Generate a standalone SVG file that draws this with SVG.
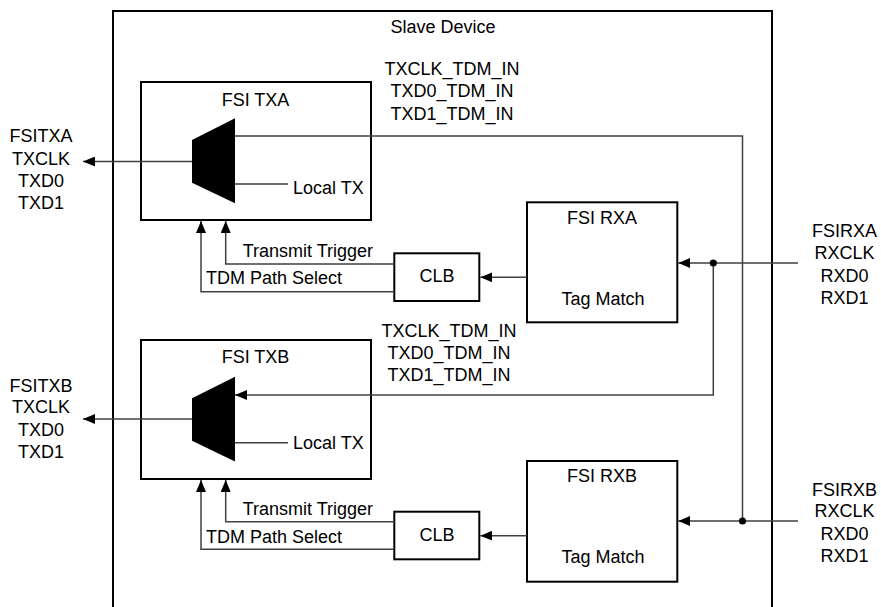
<svg xmlns="http://www.w3.org/2000/svg" width="881" height="607" viewBox="0 0 881 607">
<style>
  text { font-family: "Liberation Sans", Arial, sans-serif; font-size: 18px; fill: #000; }
  .c { text-anchor: middle; }
  .box { fill: #fff; stroke: #000; stroke-width: 2; }
  .outer { fill: none; stroke: #000; stroke-width: 2; }
  .wire { fill: none; stroke: #404040; stroke-width: 1.5; }
  .mux { fill: #000; stroke: none; }
  .dot { fill: #000; }
</style>
<defs>
  <marker id="arr" viewBox="0 0 12 10" refX="12" refY="5" markerWidth="12" markerHeight="10" markerUnits="userSpaceOnUse" orient="auto">
    <path d="M0,0 L12,5 L0,10 z" fill="#000"/>
  </marker>
</defs>
<rect width="881" height="607" fill="#fff"/>

<g id="slave-device">
  <path class="outer" d="M113,620 V11 H772 V620"/>
  <text class="c" x="443" y="33">Slave Device</text>
</g>

<g id="fsi-txa">
  <rect class="box" x="141" y="82" width="230" height="138"/>
  <text class="c" x="255.5" y="106">FSI TXA</text>
  <polygon class="mux" points="192,140 235,118.3 235,203.3 192,182.7"/>
  <text x="293" y="194">Local TX</text>
</g>

<g id="fsi-txb">
  <rect class="box" x="141" y="340" width="230" height="139"/>
  <text class="c" x="255.5" y="363.3">FSI TXB</text>
  <polygon class="mux" points="192,398.3 235,376.7 235,461.5 192,440.7"/>
  <text x="293" y="449.3">Local TX</text>
</g>

<g id="fsi-rxa">
  <rect class="box" x="527" y="202.3" width="150.3" height="120"/>
  <text class="c" x="602" y="224">FSI RXA</text>
  <text class="c" x="603" y="305">Tag Match</text>
</g>

<g id="fsi-rxb">
  <rect class="box" x="527" y="461" width="150.3" height="120.7"/>
  <text class="c" x="602" y="482.3">FSI RXB</text>
  <text class="c" x="603" y="562.7">Tag Match</text>
</g>

<g id="clb-a">
  <rect class="box" x="394.3" y="253.3" width="85" height="47.7"/>
  <text class="c" x="437" y="282.3">CLB</text>
</g>

<g id="clb-b">
  <rect class="box" x="394.3" y="511.7" width="85" height="47.6"/>
  <text class="c" x="437" y="540.8">CLB</text>
</g>

<g id="pins-txa">
  <text class="c" x="41" y="141.7">FSITXA</text>
  <text class="c" x="41" y="164.5">TXCLK</text>
  <text class="c" x="41" y="187">TXD0</text>
  <text class="c" x="41" y="209.3">TXD1</text>
</g>

<g id="pins-txb">
  <text class="c" x="41" y="391.7">FSITXB</text>
  <text class="c" x="41" y="413">TXCLK</text>
  <text class="c" x="41" y="435.7">TXD0</text>
  <text class="c" x="41" y="458.3">TXD1</text>
</g>

<g id="pins-rxa">
  <text class="c" x="844.5" y="237">FSIRXA</text>
  <text class="c" x="844.5" y="259.3">RXCLK</text>
  <text class="c" x="844.5" y="281.7">RXD0</text>
  <text class="c" x="844.5" y="304">RXD1</text>
</g>

<g id="pins-rxb">
  <text class="c" x="844.5" y="496">FSIRXB</text>
  <text class="c" x="844.5" y="517.3">RXCLK</text>
  <text class="c" x="844.5" y="540">RXD0</text>
  <text class="c" x="844.5" y="562">RXD1</text>
</g>

<g id="tdm-labels">
  <text class="c" x="452" y="75">TXCLK_TDM_IN</text>
  <text class="c" x="452" y="97.3">TXD0_TDM_IN</text>
  <text class="c" x="452" y="119.5">TXD1_TDM_IN</text>
  <text class="c" x="449" y="337">TXCLK_TDM_IN</text>
  <text class="c" x="449" y="359.3">TXD0_TDM_IN</text>
  <text class="c" x="449" y="380.7">TXD1_TDM_IN</text>
</g>

<g id="connectors">
  <path class="wire" d="M192,161.5 H83" marker-end="url(#arr)"/>
  <path class="wire" d="M192,419 H83" marker-end="url(#arr)"/>
  <path class="wire" d="M235,136 H742.5 V521"/>
  <path class="wire" d="M235,184 H288"/>
  <path class="wire" d="M235,442.7 H288"/>
  <path class="wire" d="M798,263 H678.3" marker-end="url(#arr)"/>
  <path class="wire" d="M713.3,263 V395 H235" marker-end="url(#arr)"/>
  <path class="wire" d="M798,521 H678.3" marker-end="url(#arr)"/>
  <path class="wire" d="M527,277.3 H480.3" marker-end="url(#arr)"/>
  <path class="wire" d="M527,535.7 H480.3" marker-end="url(#arr)"/>
  <path class="wire" d="M394.3,264 H225.7 V221" marker-end="url(#arr)"/>
  <path class="wire" d="M394.3,291.7 H201 V221" marker-end="url(#arr)"/>
  <path class="wire" d="M394.3,521.7 H225.7 V480" marker-end="url(#arr)"/>
  <path class="wire" d="M394.3,549.3 H201 V480" marker-end="url(#arr)"/>
  <circle class="dot" cx="713.3" cy="263" r="3.6"/>
  <circle class="dot" cx="742.5" cy="521" r="3.6"/>
  <text x="242.7" y="256.7">Transmit Trigger</text>
  <text x="206" y="284.3">TDM Path Select</text>
  <text x="242.7" y="515">Transmit Trigger</text>
  <text x="206" y="543.3">TDM Path Select</text>
</g>
</svg>
